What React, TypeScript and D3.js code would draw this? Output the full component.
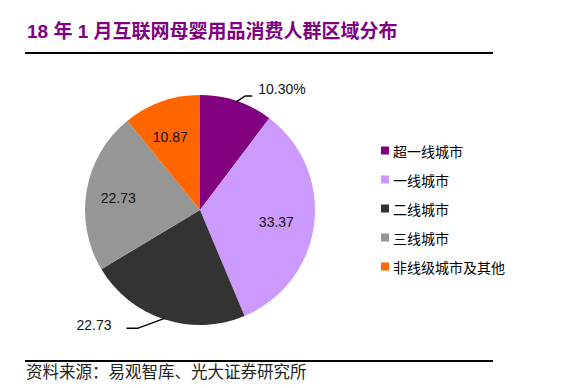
import React, { useEffect, useRef } from 'react';
import * as d3 from 'd3';

const categories = ['超一线城市', '一线城市', '二线城市', '三线城市', '非线级城市及其他'];
const values = [10.3, 33.37, 22.73, 22.73, 10.87];
const valueLabels = ['10.30%', '33.37', '22.73', '22.73', '10.87'];
const colors = ['#800080', '#CC99FF', '#333333', '#969696', '#FF6600'];
// which slices get their label outside with a leader line
const outside = [true, false, true, false, false];

const title = '18 年 1 月互联网母婴用品消费人群区域分布';
const source = '资料来源：易观智库、光大证券研究所';

const App = () => {
  const svgRef = useRef<SVGSVGElement>(null);

  useEffect(() => {
    const w = 564;
    const h = 388;
    const svg = d3.select(svgRef.current).attr('width', w).attr('height', h);
    svg.selectAll('*').remove();

    const cx = 200;
    const cy = 210;
    const r = 115;

    // title + rules
    svg
      .append('text')
      .attr('x', 27)
      .attr('y', 38)
      .attr('fill', '#800080')
      .style('font-family', '"Liberation Sans", "Noto Sans CJK SC", sans-serif')
      .style('font-weight', 'bold')
      .style('font-size', '19px')
      .text(title);

    svg.append('line').attr('x1', 25).attr('x2', 493).attr('y1', 53).attr('y2', 53)
      .attr('stroke', '#000').attr('stroke-width', 2);
    svg.append('line').attr('x1', 25).attr('x2', 493).attr('y1', 361).attr('y2', 361)
      .attr('stroke', '#000').attr('stroke-width', 2);

    svg
      .append('text')
      .attr('x', 26)
      .attr('y', 378)
      .attr('fill', '#222')
      .style('font-family', '"Noto Sans CJK SC", sans-serif')
      .style('font-size', '16.5px')
      .text(source);

    const pie = d3.pie<number>().sort(null).value((d) => d);
    const arcs = pie(values);
    const arc = d3.arc<d3.PieArcDatum<number>>().innerRadius(0).outerRadius(r);

    const g = svg.append('g').attr('transform', `translate(${cx},${cy})`);

    g.selectAll('path.slice')
      .data(arcs)
      .join('path')
      .attr('class', 'slice')
      .attr('d', arc)
      .attr('fill', (d, i) => colors[i]);

    const labelArc = d3.arc<d3.PieArcDatum<number>>().innerRadius(80).outerRadius(80);
    const numFont = '"Liberation Sans", Arial, sans-serif';

    arcs.forEach((d, i) => {
      const mid = (d.startAngle + d.endAngle) / 2;
      if (!outside[i]) {
        const [x, y] = labelArc.centroid(d);
        g.append('text')
          .attr('x', x - 3)
          .attr('y', y + 2)
          .attr('text-anchor', 'middle')
          .attr('dominant-baseline', 'central')
          .style('font-family', numFont)
          .style('font-size', '14px')
          .attr('fill', '#111')
          .text(valueLabels[i]);
        return;
      }
      const sx = Math.sin(mid) * (r - 1);
      const sy = -Math.cos(mid) * (r - 1);
      const right = Math.sin(mid) > 0;
      // elbow then a short horizontal run, like Excel's leader lines
      const ex = sx + (right ? 9 : -27);
      const ey = sy + (right ? -6 : 10);
      const hx = ex + (right ? 7 : -11);
      g.append('polyline')
        .attr('points', `${sx},${sy} ${ex},${ey} ${hx},${ey}`)
        .attr('fill', 'none')
        .attr('stroke', '#000')
        .attr('stroke-width', 1.5);
      g.append('text')
        .attr('x', hx + (right ? 6 : -15))
        .attr('y', ey - (right ? 7 : 3))
        .attr('text-anchor', right ? 'start' : 'end')
        .attr('dominant-baseline', 'central')
        .style('font-family', numFont)
        .style('font-size', '14px')
        .attr('fill', '#111')
        .text(valueLabels[i]);
    });

    // legend
    const lg = svg.append('g').attr('transform', 'translate(381,151)');
    const row = lg
      .selectAll('g')
      .data(categories)
      .join('g')
      .attr('transform', (d, i) => `translate(0,${i * 29})`);
    row.append('rect').attr('x', 0).attr('y', -4.5).attr('width', 8).attr('height', 8)
      .attr('fill', (d, i) => colors[i]);
    row.append('text')
      .attr('x', 12)
      .attr('y', 0)
      .attr('dominant-baseline', 'central')
      .style('font-family', '"Noto Sans CJK SC", sans-serif')
      .style('font-size', '14px')
      .attr('fill', '#000')
      .text((d) => d);
  }, []);

  return (
    <div style={{ position: 'absolute', left: 0, top: 0 }}>
      <svg ref={svgRef} style={{ display: 'block', background: '#fff' }}></svg>
    </div>
  );
};

export default App;
